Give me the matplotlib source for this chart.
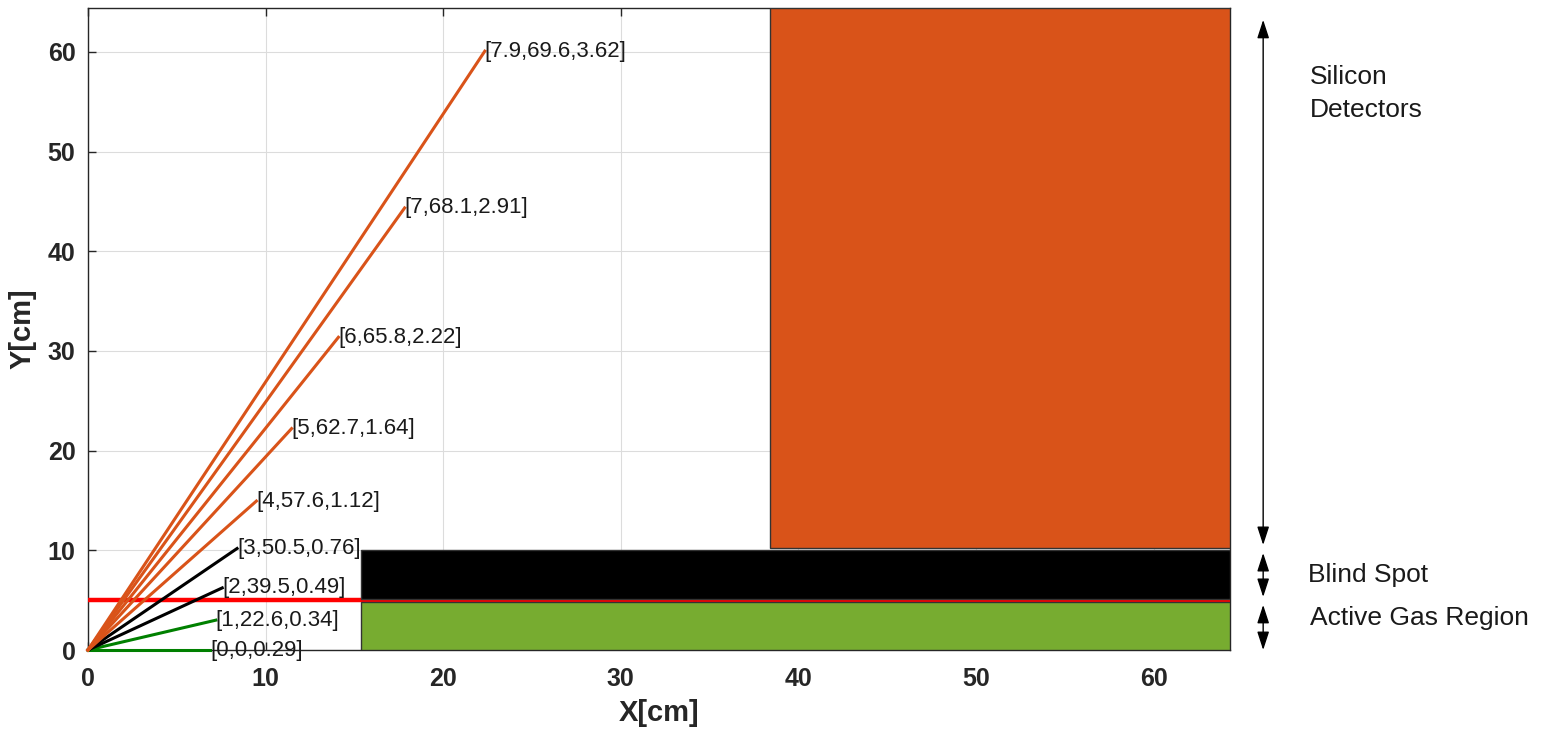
import numpy as np
import matplotlib
matplotlib.use("Agg")
import matplotlib.pyplot as plt
from matplotlib.patches import Rectangle, FancyArrowPatch

plt.rcParams['font.family'] = ['Liberation Sans', 'DejaVu Sans']

# track parameters: [p, angle (deg), e] and drawn track length (cm)
p_vals = ['0', '1', '2', '3', '4', '5', '6', '7', '7.9']
angles = [0, 22.6, 39.5, 50.5, 57.6, 62.7, 65.8, 68.1, 69.6]
e_vals = ['0.29', '0.34', '0.49', '0.76', '1.12', '1.64', '2.22', '2.91', '3.62']
lengths = [6.9, 7.8, 9.8, 13.2, 17.7, 25.0, 34.4, 47.8, 64.1]
track_colors = ['#008000', '#008000', 'k', 'k',
                '#D95319', '#D95319', '#D95319', '#D95319', '#D95319']

# detector regions (x0, y0, width, height)
gas_region = (15.4, 0.0, 48.9, 4.85)
blind_region = (15.4, 5.15, 48.9, 4.85)
silicon_region = (38.4, 10.2, 25.9, 54.2)
boundary_y = 5

xmax, ymax = 64.3, 64.4

fig = plt.figure(figsize=(15.48, 7.35), dpi=100)
ax = fig.add_axes([0.0568, 0.1156, 0.7378, 0.8734])

ax.axhline(boundary_y, color='#FF0000', lw=3.2, zorder=3)

for x0, y0, w, h, c in [(*gas_region, '#77AC30'),
                        (*blind_region, '#000000'),
                        (*silicon_region, '#D95319')]:
    ax.add_patch(Rectangle((x0, y0), w, h, facecolor=c, edgecolor='#333333',
                           lw=1.0, zorder=4))

for p, a, e, L, c in zip(p_vals, angles, e_vals, lengths, track_colors):
    xe = L * np.cos(np.radians(a))
    ye = L * np.sin(np.radians(a))
    ax.plot([0, xe], [0, ye], color=c, lw=2.2, zorder=5, clip_on=False)
    ax.text(xe, ye, f'[{p},{a:g},{e}]', fontsize=16, ha='left', va='center',
            color='#1a1a1a', zorder=6)

ax.set_xlim(0, xmax)
ax.set_ylim(0, ymax)
ax.set_xticks(np.arange(0, 61, 10))
ax.set_yticks(np.arange(0, 61, 10))
ax.grid(True, color='#dcdcdc', lw=0.8)
ax.set_axisbelow(True)
ax.tick_params(direction='in', length=6, top=True, right=False,
               labelsize=18, colors='#262626', width=1)
ax.tick_params(axis='x', pad=12)
ax.tick_params(axis='y', pad=9)
for lab in ax.get_xticklabels() + ax.get_yticklabels():
    lab.set_fontweight('bold')
for s in ax.spines.values():
    s.set_color('#262626')
    s.set_linewidth(1)
ax.set_xlabel('X[cm]', fontsize=21, fontweight='bold', color='#262626', labelpad=6)
ax.set_ylabel('Y[cm]', fontsize=21, fontweight='bold', color='#262626', labelpad=8)

# region markers to the right of the axes
ax_x = 0.816
arrow_kw = dict(arrowstyle='<|-|>,head_length=0.8,head_width=0.26', color='black',
                lw=1.0, mutation_scale=14, shrinkA=0, shrinkB=0)
for y_top, y_bot in [(0.973, 0.2585), (0.2476, 0.1878), (0.177, 0.1156)]:
    fig.patches.append(FancyArrowPatch((ax_x, y_bot), (ax_x, y_top),
                                       transform=fig.transFigure, **arrow_kw))

fig.text(0.846, 0.873, 'Silicon\nDetectors', fontsize=19, va='center', ha='left',
         color='#1a1a1a', linespacing=1.45)
fig.text(0.845, 0.2177, 'Blind Spot', fontsize=19, va='center', ha='left', color='#1a1a1a')
fig.text(0.846, 0.159, 'Active Gas Region', fontsize=19, va='center', ha='left',
         color='#1a1a1a')

fig.savefig('out.png', dpi=100)
